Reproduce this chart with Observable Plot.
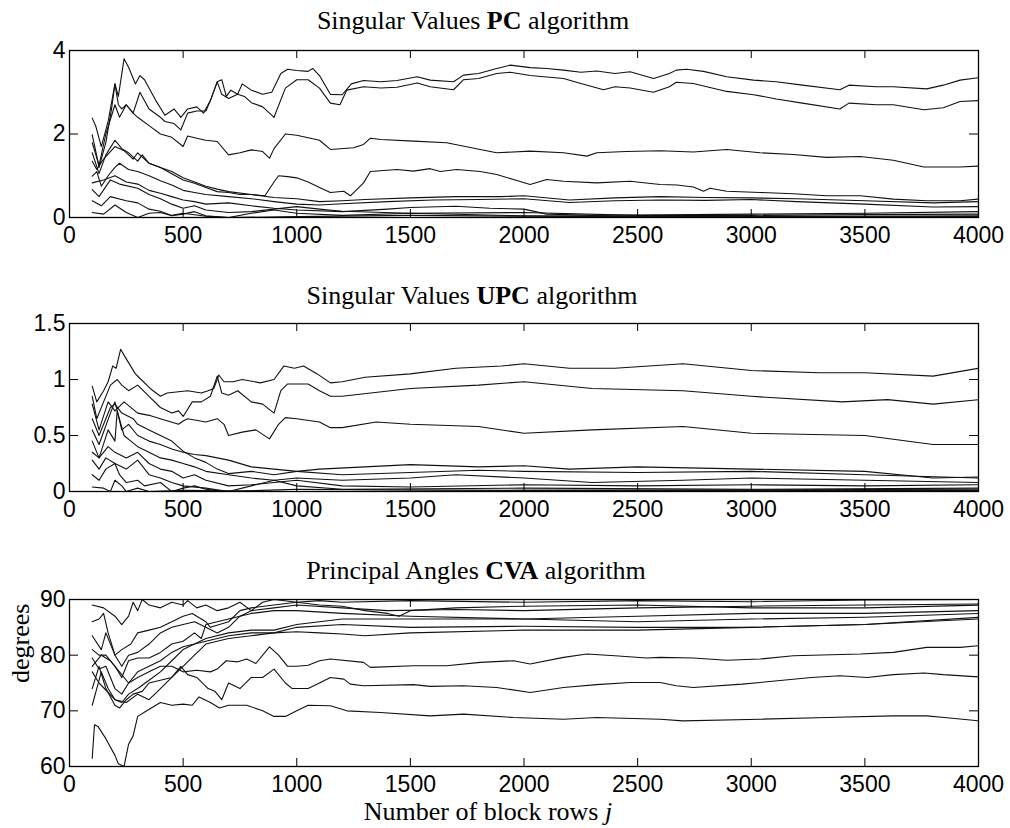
<!DOCTYPE html>
<html><head><meta charset="utf-8">
<script src="https://cdn.jsdelivr.net/npm/d3@7"></script>
<script src="https://cdn.jsdelivr.net/npm/@observablehq/plot@0.6"></script>
<style>
body{margin:0;background:#fff}
#wrap{position:relative;width:1010px;height:828px;background:#fff;overflow:hidden}
.panel{position:absolute;left:0}
.ttl{position:absolute;font-family:"Liberation Serif","Times New Roman",serif;font-size:26px;line-height:26px;white-space:nowrap;transform:translateX(-50%);color:#000}
</style></head><body>
<div id="wrap">
  <div class="panel" id="p1" style="top:0px"></div>
  <div class="panel" id="p2" style="top:272px"></div>
  <div class="panel" id="p3" style="top:544px"></div>
  <div class="ttl" style="left:473px;top:8px">Singular Values <b>PC</b> algorithm</div>
  <div class="ttl" style="left:472px;top:283px">Singular Values <b>UPC</b> algorithm</div>
  <div class="ttl" style="left:476px;top:558px">Principal Angles <b>CVA</b> algorithm</div>
  <div class="ttl" style="left:488px;top:799px">Number of block rows <i>j</i></div>
</div>
<script>
// ---------- tick values ----------
const xTicks = [0, 500, 1000, 1500, 2000, 2500, 3000, 3500, 4000];
const yTicksPC = [0, 2, 4];
const yTicksUPC = [0, 0.5, 1, 1.5];
const yTicksCVA = [60, 70, 80, 90];

// ---------- PC singular values: [j, value] ----------
const pcA = [[100,2.38],[115,2.2],[140,1.7],[170,2.3],[190,2.9],[200,3.2],[215,2.9],[240,3.8],[260,3.6],[290,3.2],[310,3.4],[330,3.3],[380,2.8],[420,2.45],[460,2.6],[490,2.4],[520,2.6],[560,2.65],[590,2.5],[620,2.8],[650,3.25],[670,3.3],[690,2.9],[710,3.05],[740,2.95],[760,3.2],[800,3.05],[850,2.95],[890,3.0],[930,3.45],[960,3.55],[1000,3.52],[1050,3.5],[1070,3.57],[1100,3.4],[1148,2.95],[1200,2.94],[1240,3.2],[1294,3.28],[1370,3.25],[1441,3.28],[1530,3.37],[1587,3.29],[1690,3.25],[1734,3.41],[1800,3.45],[1880,3.57],[1940,3.65],[2027,3.59],[2100,3.57],[2174,3.53],[2250,3.48],[2320,3.51],[2400,3.45],[2467,3.49],[2570,3.33],[2640,3.45],[2670,3.53],[2715,3.55],[2790,3.5],[2892,3.37],[3010,3.29],[3110,3.25],[3225,3.17],[3390,3.06],[3430,3.17],[3550,3.13],[3625,3.13],[3772,3.08],[3845,3.17],[3919,3.29],[4000,3.35]];
const pcB = [[100,1.98],[115,1.6],[130,1.2],[160,1.8],[185,2.6],[200,3.2],[215,2.7],[230,2.6],[250,2.7],[280,2.5],[310,3.0],[350,2.6],[400,2.4],[420,2.3],[460,2.25],[490,2.1],[520,2.5],[560,2.55],[600,2.55],[620,2.8],[650,3.25],[670,2.95],[700,2.85],[740,2.95],[770,2.9],[800,2.75],[850,2.65],[880,2.5],[900,2.4],[950,3.1],[1000,3.3],[1050,3.3],[1100,3.1],[1148,2.74],[1190,2.7],[1220,3.05],[1294,3.13],[1370,3.1],[1441,3.12],[1530,3.22],[1587,3.13],[1690,3.06],[1734,3.3],[1800,3.33],[1880,3.45],[1940,3.48],[2027,3.4],[2174,3.33],[2250,3.21],[2350,3.06],[2400,3.13],[2467,3.1],[2570,3.0],[2640,3.13],[2670,3.24],[2745,3.21],[2892,3.02],[3010,2.94],[3110,2.84],[3225,2.74],[3390,2.6],[3430,2.74],[3550,2.7],[3625,2.7],[3760,2.58],[3845,2.63],[3919,2.78],[4000,2.8]];
const pcC = [[100,1.79],[130,1.25],[160,2.0],[200,2.7],[220,2.4],[250,2.7],[280,2.5],[300,2.4],[350,2.2],[400,2.0],[450,1.92],[500,1.7],[520,1.95],[560,1.9],[600,1.85],[650,1.82],[700,1.5],[750,1.55],[800,1.62],[850,1.58],[880,1.42],[900,1.65],[950,2.0],[1000,1.97],[1100,1.85],[1148,1.63],[1250,1.67],[1294,1.75],[1324,1.9],[1370,1.87],[1514,1.83],[1660,1.79],[1807,1.63],[1880,1.55],[2027,1.59],[2174,1.55],[2277,1.47],[2320,1.55],[2450,1.58],[2599,1.6],[2745,1.57],[2892,1.63],[3039,1.55],[3185,1.51],[3332,1.44],[3480,1.46],[3625,1.37],[3760,1.21],[3919,1.21],[4000,1.23]];
const pcD = [[100,1.55],[130,1.05],[160,1.5],[200,1.85],[230,1.65],[260,1.55],[300,1.35],[320,1.5],[350,1.3],[400,1.2],[450,1.05],[500,0.9],[550,0.82],[600,0.72],[650,0.62],[700,0.6],[750,0.55],[800,0.55],[860,0.52],[900,0.85],[920,1.0],[960,0.98],[1000,0.95],[1050,0.85],[1100,0.72],[1148,0.6],[1207,0.63],[1236,0.52],[1294,0.83],[1324,1.1],[1441,1.15],[1514,1.11],[1587,1.17],[1631,1.1],[1704,1.15],[1807,1.1],[1880,1.03],[1954,0.91],[2027,0.79],[2100,0.91],[2174,0.87],[2320,0.83],[2467,0.87],[2599,0.79],[2673,0.78],[2745,0.73],[2790,0.63],[2818,0.7],[2892,0.63],[3039,0.6],[3185,0.57],[3332,0.52],[3480,0.52],[3625,0.44],[3772,0.4],[3919,0.4],[4000,0.44]];
const pcE = [[100,1.35],[120,1.15],[150,1.4],[200,1.7],[240,1.6],[280,1.4],[300,1.55],[350,1.3],[400,1.2],[450,1.1],[500,0.95],[550,0.85],[600,0.75],[650,0.68],[700,0.62],[800,0.55],[900,0.48],[1000,0.45],[1100,0.38],[1200,0.4],[1300,0.43],[1500,0.47],[1700,0.5],[1900,0.5],[2000,0.52],[2200,0.42],[2400,0.47],[2600,0.5],[2800,0.48],[3000,0.47],[3200,0.45],[3500,0.4],[3800,0.35],[4000,0.38]];
const pcF = [[100,0.99],[120,1.1],[140,0.75],[170,1.0],[200,1.2],[220,1.3],[260,1.15],[300,1.1],[350,1.0],[400,0.88],[450,0.78],[500,0.65],[550,0.6],[600,0.55],[700,0.5],[800,0.45],[900,0.38],[1000,0.32],[1100,0.3],[1200,0.33],[1400,0.38],[1600,0.42],[1800,0.43],[2000,0.45],[2200,0.36],[2400,0.4],[2600,0.42],[2800,0.41],[3000,0.43],[3200,0.38],[3500,0.32],[3800,0.25],[4000,0.26]];
const pcG = [[100,0.83],[150,0.9],[200,1.0],[250,0.85],[300,0.8],[350,0.65],[400,0.58],[450,0.5],[500,0.42],[550,0.38],[600,0.32],[700,0.35],[800,0.28],[900,0.22],[1000,0.18],[1200,0.14],[1400,0.2],[1500,0.24],[1700,0.27],[1850,0.22],[2000,0.2],[2100,0.08],[2300,0.05],[2500,0.06],[3000,0.08],[3500,0.1],[4000,0.14]];
const pcH = [[100,0.67],[130,0.5],[180,0.9],[220,0.8],[300,0.7],[350,0.55],[400,0.45],[450,0.32],[500,0.22],[550,0.28],[600,0.18],[700,0.12],[800,0.14],[900,0.2],[1000,0.26],[1100,0.2],[1200,0.15],[1500,0.1],[2000,0.12],[2500,0.05],[3000,0.05],[3500,0.07],[4000,0.08]];
const pcI = [[100,0.4],[140,0.28],[180,0.5],[250,0.4],[300,0.35],[350,0.2],[400,0.15],[450,0.05],[500,0.1],[600,0.03],[700,0.0],[800,0.1],[900,0.18],[1000,0.1],[1200,0.05],[1500,0.1],[2000,0.04],[3000,0.02],[4000,0.04]];
const pcJ = [[100,0.12],[150,0.08],[200,0.3],[250,0.12],[300,0.0],[350,0.1],[400,0.12],[450,0.04],[500,0.08],[550,0.14],[600,0.04],[700,0.0],[1000,0.02],[1500,0.05],[2000,0.03],[2500,0.02],[3000,0.01],[4000,0.02]];

// ---------- UPC singular values ----------
const upA = [[100,0.94],[120,0.8],[150,0.9],[170,0.98],[190,1.12],[205,1.1],[225,1.27],[245,1.2],[290,1.05],[305,1.02],[355,0.92],[400,0.85],[430,0.88],[520,0.9],[580,0.88],[610,0.9],[635,0.92],[657,1.04],[680,0.98],[720,0.98],[760,1.0],[840,0.97],[900,1.0],[943,1.12],[990,1.1],[1030,1.12],[1090,1.05],[1148,0.97],[1200,0.98],[1300,1.02],[1500,1.05],[1700,1.1],[1900,1.12],[2000,1.14],[2200,1.1],[2400,1.1],[2700,1.14],[3000,1.08],[3300,1.06],[3500,1.06],[3800,1.03],[4000,1.1]];
const upB = [[100,0.85],[120,0.65],[150,0.8],[180,0.95],[210,1.0],[230,0.95],[260,0.9],[300,0.95],[350,0.85],[400,0.75],[450,0.7],[480,0.72],[500,0.67],[540,0.8],[580,0.8],[620,0.85],[650,1.03],[670,0.88],[700,0.86],[740,0.9],[800,0.8],[850,0.78],[900,0.7],[930,0.9],[960,0.96],[1050,0.96],[1100,0.9],[1148,0.85],[1200,0.85],[1500,0.92],[1800,0.95],[2000,0.98],[2300,0.92],[2700,0.9],[3000,0.85],[3400,0.8],[3600,0.82],[3800,0.78],[4000,0.82]];
const upC = [[100,0.78],[130,0.55],[170,0.8],[200,0.72],[240,0.8],[300,0.7],[350,0.68],[400,0.65],[480,0.6],[500,0.63],[520,0.65],[600,0.62],[650,0.65],[680,0.6],[700,0.5],[760,0.53],[820,0.55],[880,0.47],[920,0.6],[950,0.66],[1000,0.65],[1100,0.62],[1148,0.57],[1200,0.57],[1350,0.62],[1500,0.6],[1800,0.58],[2000,0.52],[2300,0.55],[2700,0.58],[3000,0.52],[3500,0.5],[3800,0.42],[4000,0.42]];
const upD = [[100,0.65],[130,0.5],[180,0.75],[200,0.78],[230,0.7],[280,0.65],[300,0.6],[350,0.55],[400,0.5],[450,0.45],[500,0.36],[550,0.3],[600,0.26],[650,0.2],[700,0.16],[800,0.18],[900,0.15],[1000,0.18],[1100,0.2],[1300,0.22],[1500,0.24],[1800,0.22],[2000,0.23],[2200,0.2],[2500,0.22],[3000,0.2],[3500,0.18],[3800,0.12],[4000,0.13]];
const upE = [[100,0.55],[130,0.42],[180,0.7],[200,0.8],[230,0.55],[260,0.6],[300,0.5],[350,0.45],[400,0.42],[450,0.38],[500,0.35],[550,0.33],[600,0.32],[700,0.28],[800,0.22],[900,0.2],[1000,0.18],[1200,0.15],[1500,0.17],[1800,0.19],[2000,0.18],[2500,0.17],[3000,0.18],[3500,0.15],[4000,0.12]];
const upF = [[100,0.45],[130,0.3],[170,0.55],[200,0.45],[210,0.72],[240,0.5],[270,0.45],[300,0.4],[350,0.35],[400,0.3],[450,0.28],[500,0.25],[550,0.22],[600,0.18],[700,0.15],[800,0.12],[900,0.1],[1000,0.12],[1200,0.1],[1500,0.12],[1700,0.15],[2000,0.12],[2300,0.08],[2700,0.1],[3000,0.12],[3500,0.1],[4000,0.08]];
const upG = [[100,0.35],[130,0.3],[170,0.4],[200,0.35],[250,0.3],[300,0.35],[350,0.25],[400,0.2],[450,0.18],[500,0.12],[550,0.15],[600,0.1],[700,0.05],[800,0.06],[900,0.08],[1000,0.1],[1200,0.05],[1500,0.04],[2000,0.06],[2500,0.05],[3000,0.06],[3500,0.05],[4000,0.06]];
const upH = [[100,0.28],[130,0.2],[160,0.3],[200,0.25],[250,0.2],[300,0.28],[350,0.15],[400,0.12],[450,0.08],[500,0.05],[600,0.03],[700,0.0],[800,0.05],[900,0.1],[1000,0.05],[1200,0.02],[2000,0.03],[3000,0.02],[4000,0.03]];
const upI = [[100,0.15],[130,0.1],[160,0.2],[200,0.25],[220,0.15],[250,0.08],[300,0.1],[330,0.05],[400,0.08],[450,0.0],[500,0.03],[550,0.05],[600,0.02],[700,0.0],[1000,0.02],[2000,0.01],[4000,0.02]];
const upJ = [[100,0.04],[150,0.03],[180,0.0],[200,0.1],[230,0.05],[250,0.0],[300,0.03],[350,0.0],[500,0.01],[1000,0.0],[2000,0.01],[4000,0.01]];

// ---------- CVA principal angles (degrees) ----------
const cvL1 = [[100,61.5],[110,67.5],[125,67.2],[160,65],[200,62],[215,60.5],[240,60],[260,64],[280,65.5],[300,69],[340,70],[400,71.5],[450,71],[500,71.2],[540,71],[570,72.5],[620,71.5],[660,70.5],[700,71],[780,71],[850,70],[900,69],[950,69],[1000,70],[1050,71],[1148,70.9],[1221,70],[1368,69.7],[1587,69.1],[1734,69.4],[1954,68.8],[2174,68.5],[2320,68.8],[2599,68.5],[2700,68.2],[3039,68.5],[3332,68.8],[3625,69.1],[3772,69.1],[3850,68.8],[4000,68.2]];
const cvL2 = [[100,71],[120,74],[140,77],[170,74],[200,72],[250,71.5],[300,73],[350,72],[400,74],[450,76],[490,78],[520,76.5],[560,76],[610,74],[640,73.5],[670,72],[700,75],[750,74],[800,76],[850,76],[900,77.5],[950,75],[980,74],[1050,74],[1100,75],[1148,76],[1207,75.7],[1236,74.8],[1294,74.5],[1514,74.7],[1587,74.4],[1734,74.5],[1880,74.2],[2027,73.3],[2174,74.2],[2320,74.7],[2467,75.1],[2599,75.1],[2670,74.5],[2745,74.2],[2960,74.8],[3039,75.1],[3265,76],[3390,76.3],[3510,76],[3625,76.5],[3760,76.8],[3845,76.5],[4000,76.1]];
const cvL3 = [[100,78],[140,80],[180,79],[220,77],[260,75],[300,76],[350,77],[400,78],[450,78],[500,77],[560,77.3],[620,77],[650,77.5],[690,79],[740,78.8],[780,79.3],[820,78.5],[880,81.5],[920,80],[960,78],[1000,78],[1050,78.2],[1100,79],[1148,79.3],[1294,78.7],[1324,77.8],[1514,78.1],[1660,78.1],[1807,78.7],[1954,79],[2027,78.4],[2174,79.6],[2277,80.2],[2400,79.9],[2540,79.5],[2599,79.6],[2745,79.5],[2892,79.1],[3039,79.3],[3185,79.9],[3480,80.2],[3625,80.5],[3772,81.4],[3919,81.4],[4000,81.7]];
const cvU1 = [[100,89],[150,88.5],[200,87],[230,85.5],[260,87],[280,89.5],[300,88],[320,90],[350,89],[400,88.5],[450,89.5],[500,89],[520,89.8],[560,88.5],[600,89],[650,88],[700,88.5],[750,89.5],[800,88],[850,89.5],[900,90],[1000,89.5],[1100,89.8],[1200,89.5],[1500,89.8],[2000,89.5],[2500,89.8],[3000,89.6],[3500,89.9],[4000,90]];
const cvU2 = [[100,86],[130,86.5],[150,87.5],[170,84],[200,80],[230,81],[270,82],[300,84],[350,84.5],[400,85],[450,86],[500,87],[540,87.5],[600,86],[620,85],[700,86],[750,88],[800,88.5],[900,89],[1000,89.5],[1100,89],[1200,88.8],[1300,88],[1400,87.5],[1450,87],[1500,88],[1700,88.5],[2000,88.8],[2500,89],[3000,88.5],[3500,88.5],[4000,89]];
const cvU3 = [[100,83.5],[140,81],[160,84],[200,80],[230,78],[260,80],[300,80.5],[350,82],[400,84],[450,85],[500,85.5],[550,86],[600,85],[650,84],[700,85],[750,87],[800,88],[900,88.5],[1000,89],[1200,88.5],[1400,88],[1700,88.2],[2000,88],[2500,88.5],[3000,88.8],[3500,89],[4000,89.2]];
const cvU4 = [[100,81],[130,80],[160,80],[200,78],[230,76],[260,79],[300,79.5],[350,79.5],[400,80.5],[450,82],[500,82.5],[550,84],[580,83],[600,85.5],[650,86],[700,86.5],[800,87.5],[900,88],[1000,88],[1200,87.5],[1500,87],[2000,86.5],[2500,87],[3000,87.5],[3500,87.5],[4000,88]];
const cvU5 = [[100,79.5],[130,77.5],[160,78],[200,74],[230,73],[260,75],[300,77],[350,78],[400,79],[450,80.5],[500,81.5],[550,82],[600,83],[700,84],[800,84.5],[900,84.5],[1000,85.5],[1100,86],[1200,86.5],[1500,86.5],[2000,86.5],[2500,86],[3000,86.5],[3500,86.8],[4000,87.5]];
const cvU6 = [[100,77],[130,75],[200,72],[230,71.5],[260,73],[300,74],[350,75.5],[400,77],[450,79],[500,81],[550,82],[600,82.5],[700,83.5],[800,84],[900,84],[1000,84.2],[1100,84],[1200,83.8],[1300,83.5],[1500,84],[2000,84.5],[2500,84.5],[3000,85],[3500,85.5],[4000,86.8]];
const cvU7 = [[100,74],[130,78],[160,74],[200,71],[220,70.5],[250,72],[280,73],[320,73.5],[350,75],[400,75.5],[450,76],[500,78],[550,80],[600,82],[700,83],[800,83.5],[900,84],[1000,85],[1200,85.5],[1500,85],[2000,85.2],[2500,85],[3000,85],[3500,85.5],[4000,86.5]];

const pcSeries = {pcA, pcB, pcC, pcD, pcE, pcF, pcG, pcH, pcI, pcJ};
const upcSeries = {upA, upB, upC, upD, upE, upF, upG, upH, upI, upJ};
const cvaSeries = {cvL1, cvL2, cvL3, cvU1, cvU2, cvU3, cvU4, cvU5, cvU6, cvU7};

const W = 1010, ML = 69, MR = 32;
const tickFont = "Liberation Sans, Arial, Helvetica, sans-serif";
const serifFont = "Liberation Serif, Times New Roman, serif";

function panel(id, series, yDomain, yTicks, height, marginTop, marginBottom, extra = []) {
  const fw = W - ML - MR;
  const fh = height - marginTop - marginBottom;
  const data = Object.entries(series).flatMap(([k, pts]) => pts.map(([x, y]) => ({k, x, y})));
  const chart = Plot.plot({
    width: W, height, marginLeft: ML, marginRight: MR, marginTop, marginBottom,
    style: {background: "white", color: "black", overflow: "visible"},
    x: {domain: [0, 4000], axis: null},
    y: {domain: yDomain, axis: null},
    marks: [
      Plot.line(data, {x: "x", y: "y", z: "k", stroke: "#111", strokeWidth: 1.1, clip: true}),
      Plot.tickX(xTicks, {x: d => d, insetTop: fh - 8, stroke: "black"}),
      Plot.tickX(xTicks, {x: d => d, insetBottom: fh - 8, stroke: "black"}),
      Plot.tickY(yTicks, {y: d => d, insetRight: fw - 9, stroke: "black"}),
      Plot.tickY(yTicks, {y: d => d, insetLeft: fw - 9, stroke: "black"}),
      Plot.frame({stroke: "black", strokeWidth: 1.3}),
      Plot.axisX(xTicks, {anchor: "bottom", tickSize: 0, tickPadding: 9, fontSize: 23, fontFamily: tickFont, tickFormat: d => String(d), label: null}),
      Plot.axisY(yTicks, {anchor: "left", tickSize: 0, tickPadding: 4, fontSize: 23, fontFamily: tickFont, tickFormat: d => String(d), label: null}),
      ...extra
    ]
  });
  document.getElementById(id).append(chart);
}

panel("p1", pcSeries, [0, 4], yTicksPC, 272, 50, 55);
panel("p2", upcSeries, [0, 1.5], yTicksUPC, 272, 51, 53);
panel("p3", cvaSeries, [60, 90], yTicksCVA, 284, 55, 62, [
  Plot.text(["degrees"], {frameAnchor: "left", text: d => d, rotate: -90, dx: -49, fontSize: 26, fontFamily: serifFont})
]);
</script>
</body></html>
